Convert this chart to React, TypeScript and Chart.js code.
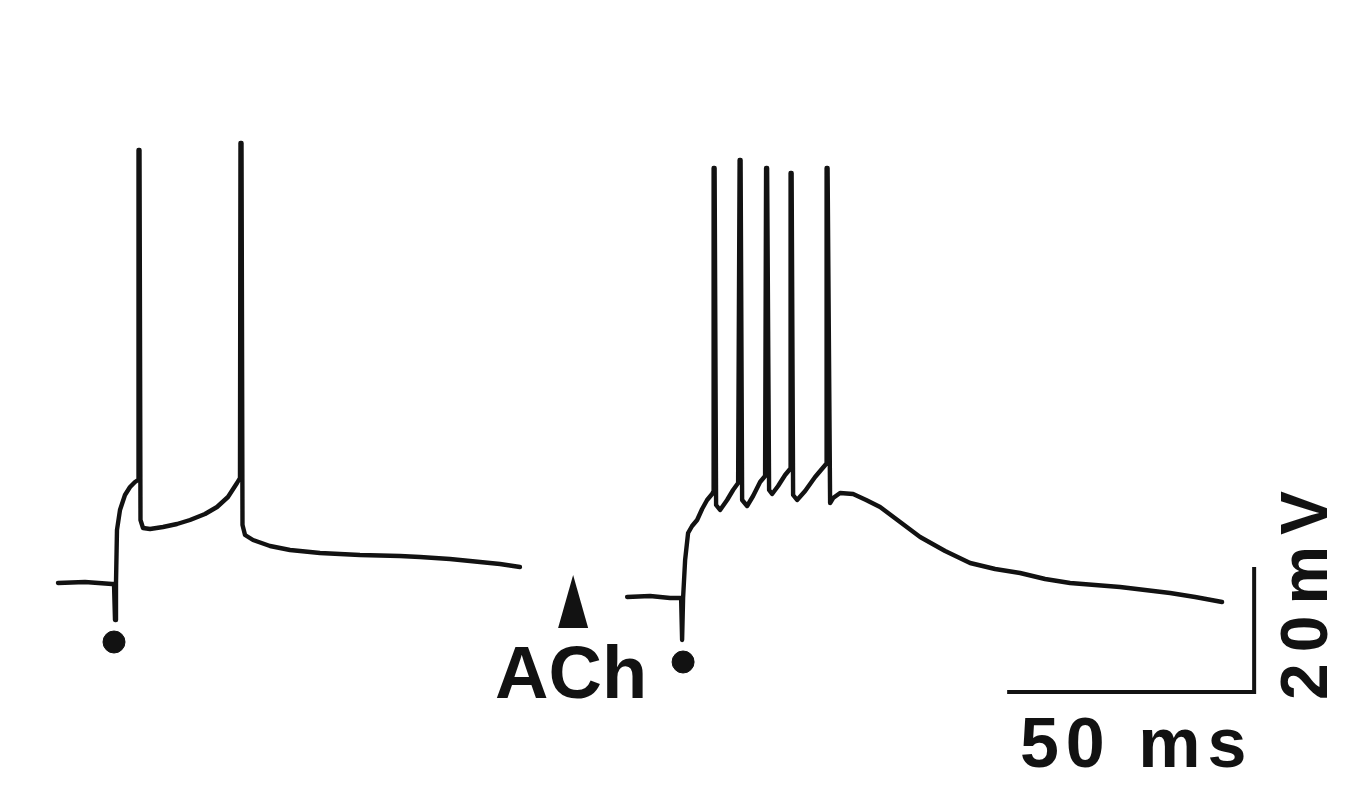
import React, { useEffect, useRef } from "react";
import { Chart, registerables } from "chart.js";

Chart.register(...registerables);

// Control trace (time in ms relative to stimulus, membrane potential in mV)
const LEFT_T = [-11.54, -6.07, -0.61, -0.2, 0, 0.2, 0.4, 1.01, 2.02, 3.04, 4.05, 4.66, 4.76, 4.96, 5.16, 5.67, 7.09, 9.72, 12.55, 15.18, 18.22, 20.65, 22.87, 24.7, 25.3, 25.4, 25.61, 25.81, 26.32, 27.94, 31.38, 35.43, 41.5, 49.6, 57.69, 61.74, 67.81, 73.89, 77.94, 81.98];
const LEFT_V = [-70.0, -69.84, -70.16, -70.16, -75.92, -70.16, -61.52, -58.32, -55.92, -54.64, -53.84, -53.52, -0.72, -0.72, -59.92, -61.2, -61.36, -61.04, -60.56, -59.92, -58.96, -57.84, -56.24, -54.0, -53.2, 0.4, 0.4, -60.72, -62.32, -63.12, -64.08, -64.72, -65.2, -65.52, -65.68, -65.84, -66.16, -66.64, -66.96, -67.44];

// ACh trace (time relative to its own stimulus)
const RIGHT_T = [-11.13, -6.48, -2.43, -0.2, 0, 0.2, 0.61, 1.21, 2.02, 3.04, 4.05, 5.06, 6.07, 6.28, 6.38, 6.58, 6.88, 7.69, 9.11, 10.32, 11.34, 11.64, 11.84, 12.15, 13.16, 14.37, 15.79, 16.8, 17.0, 17.21, 17.61, 18.22, 19.43, 20.85, 21.86, 21.96, 22.17, 22.47, 23.28, 24.9, 26.92, 29.15, 29.25, 29.45, 29.96, 30.57, 31.98, 34.62, 37.25, 40.08, 44.13, 48.18, 53.24, 58.3, 63.36, 68.42, 73.48, 78.54, 83.6, 88.66, 93.72, 98.79, 103.85, 109.31];
const RIGHT_V = [-72.24, -72.08, -72.4, -72.4, -79.12, -72.4, -66.32, -62.0, -60.88, -59.92, -58.16, -56.72, -55.76, -55.44, -3.6, -3.6, -57.52, -58.32, -56.72, -55.12, -54.0, -2.32, -2.32, -56.72, -57.68, -56.08, -53.84, -52.88, -3.6, -3.6, -55.12, -55.76, -54.48, -52.72, -51.76, -4.4, -4.4, -55.92, -56.72, -55.28, -53.04, -50.96, -3.6, -3.6, -57.2, -56.4, -55.6, -55.76, -56.72, -57.84, -60.24, -62.64, -64.88, -66.8, -67.76, -68.4, -69.36, -70.0, -70.32, -70.64, -71.12, -71.6, -72.24, -73.04];

const RIGHT_OFFSET_MS = 114.8;

// stimulus markers (dots)
const DOT_T = [-0.2, 0.2];
const DOT_V = [-79.44, -82.64];
const DOT_TRACE_OFFSET = [0, RIGHT_OFFSET_MS];

// ACh application marker (relative to right trace stimulus)
const ACH_T = -22.06;
const ACH_TOP_V = -68.72;
const ACH_BASE_V = -77.2;
const ACH_HALF_WIDTH_MS = 3.04;
const ACH_LABEL = "ACh";

// scale bar
const SCALE_MS = 50;
const SCALE_MV = 20;
const SCALE_CORNER_T = 230.6;
const SCALE_CORNER_V = -87.44;
const SCALE_X_LABEL = "50 ms";
const SCALE_Y_LABEL = "20mV";

const X_MIN = -23.28;
const X_MAX = 253.04;
const Y_MIN = -103.12;
const Y_MAX = 23.28;

const INK = "#121212";

function pts(t: number[], v: number[], off = 0) {
  return t.map((x, i) => ({ x: x + off, y: v[i] }));
}

const annotations = {
  id: "annotations",
  afterDatasetsDraw(chart: any) {
    const { ctx, scales } = chart;
    const xs = scales.x;
    const ys = scales.y;
    ctx.save();
    ctx.fillStyle = INK;
    // ACh triangle
    const ax = xs.getPixelForValue(ACH_T + RIGHT_OFFSET_MS);
    const axl = xs.getPixelForValue(ACH_T + RIGHT_OFFSET_MS - ACH_HALF_WIDTH_MS);
    const axr = xs.getPixelForValue(ACH_T + RIGHT_OFFSET_MS + ACH_HALF_WIDTH_MS);
    const ayTop = ys.getPixelForValue(ACH_TOP_V);
    const ayBase = ys.getPixelForValue(ACH_BASE_V);
    ctx.beginPath();
    ctx.moveTo(ax, ayTop);
    ctx.lineTo(axr, ayBase);
    ctx.lineTo(axl, ayBase);
    ctx.closePath();
    ctx.fill();

    ctx.font = 'bold 74px "Liberation Sans", Arial, sans-serif';
    ctx.textAlign = "center";
    ctx.textBaseline = "alphabetic";
    ctx.fillText(ACH_LABEL, ax - 2, ayBase + 70);

    // scale bar labels
    const cx = xs.getPixelForValue(SCALE_CORNER_T);
    const cy = ys.getPixelForValue(SCALE_CORNER_V);
    const hx = xs.getPixelForValue(SCALE_CORNER_T - SCALE_MS / 2);
    ctx.font = 'bold 70px "Liberation Sans", Arial, sans-serif';
    (ctx as any).letterSpacing = "7px";
    ctx.fillText(SCALE_X_LABEL, hx + 6, cy + 75);

    ctx.translate(cx + 73, cy + 8);
    ctx.rotate(-Math.PI / 2);
    ctx.textAlign = "left";
    ctx.font = 'bold 66px "Liberation Sans", Arial, sans-serif';
    (ctx as any).letterSpacing = "11px";
    ctx.fillText(SCALE_Y_LABEL, 0, 0);
    ctx.restore();
  },
};

export default function App() {
  const ref = useRef<HTMLCanvasElement | null>(null);
  useEffect(() => {
    document.body.style.margin = "0";
    document.body.style.background = "#fff";
    if (!ref.current) return;
    const lineDs = (data: any[], w = 4.4) => ({
      type: "line" as const,
      data,
      borderColor: INK,
      borderWidth: w,
      pointRadius: 0,
      tension: 0,
      fill: false,
      borderJoinStyle: "round" as const,
      borderCapStyle: "round" as const,
    });
    const chart = new Chart(ref.current, {
      type: "line",
      data: {
        datasets: [
          lineDs(pts(LEFT_T, LEFT_V)),
          lineDs(pts(RIGHT_T, RIGHT_V, RIGHT_OFFSET_MS)),
          {
            ...lineDs(
              [
                { x: SCALE_CORNER_T - SCALE_MS, y: SCALE_CORNER_V },
                { x: SCALE_CORNER_T, y: SCALE_CORNER_V },
                { x: SCALE_CORNER_T, y: SCALE_CORNER_V + SCALE_MV },
              ],
              4
            ),
            borderJoinStyle: "miter" as const,
            borderCapStyle: "butt" as const,
          },
          {
            type: "scatter" as const,
            data: DOT_T.map((t, i) => ({ x: t + DOT_TRACE_OFFSET[i], y: DOT_V[i] })),
            backgroundColor: INK,
            borderColor: INK,
            pointRadius: 11,
            showLine: false,
          } as any,
        ],
      },
      options: {
        responsive: false,
        animation: false,
        devicePixelRatio: 1,
        layout: { padding: 0, autoPadding: false },
        plugins: { legend: { display: false }, tooltip: { enabled: false } },
        scales: {
          x: { type: "linear", min: X_MIN, max: X_MAX, display: false },
          y: { type: "linear", min: Y_MIN, max: Y_MAX, display: false },
        },
      },
      plugins: [annotations],
    });
    return () => chart.destroy();
  }, []);
  return <canvas ref={ref} width={1365} height={790} style={{ display: "block" }} />;
}
